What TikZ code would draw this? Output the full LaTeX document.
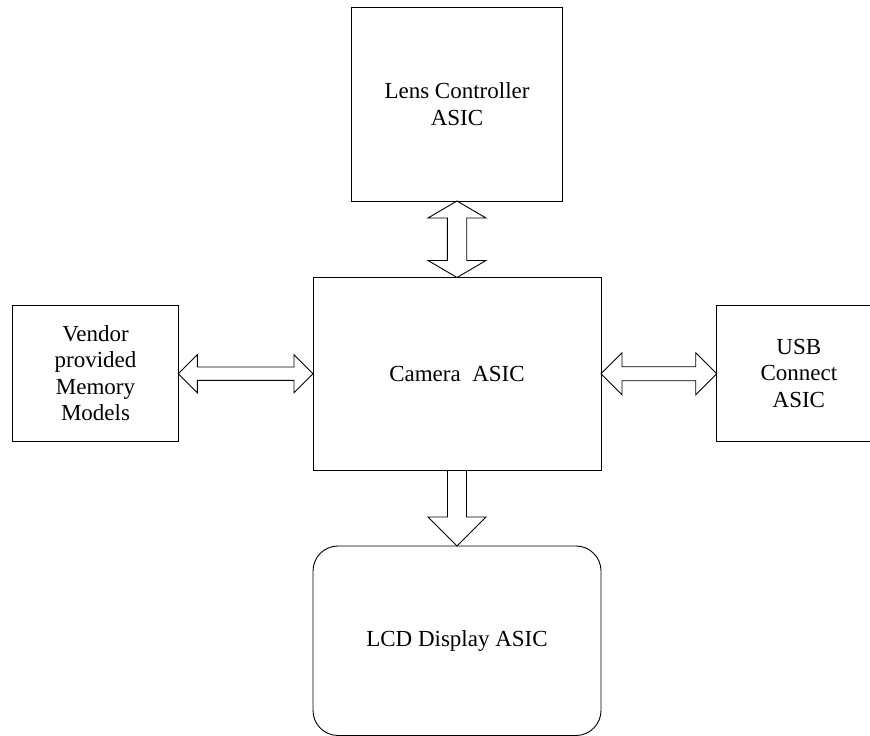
\documentclass[tikz,border=0pt]{standalone}
\usepackage{fontspec}
\setmainfont{Liberation Serif}
\usetikzlibrary{calc}

\begin{document}
\begin{tikzpicture}[x=1pt, y=1pt, line width=0.9pt,
    block/.style={draw, align=center, inner sep=0pt, outer sep=0pt, font=\fontsize{23}{26.5}\selectfont},
    hollow/.style={draw, line join=miter}]

    \useasboundingbox (0,0) rectangle (870,736);
    \clip (0,0) rectangle (870,736);

    \node [block, minimum width=288pt, minimum height=192.5pt] (cam) at (457,362.25) {Camera\ \ ASIC};
    \node [block, minimum width=211pt, minimum height=193.7pt] (lens) at (457,631.85) {Lens Controller\\ASIC};
    \node [block, minimum width=165.6pt, minimum height=135.3pt] (vendor) at (95.5,362.65) {Vendor\\provided\\Memory\\Models};
    \node [block, minimum width=164.3pt, minimum height=135.3pt] (usb) at (798.85,362.65) {USB\\Connect\\ASIC};
    \node [block, rounded corners=25pt, minimum width=288pt, minimum height=189.5pt] (lcd) at (457,95.25) {LCD Display ASIC};

    \coordinate (lenstip) at (lens.south -| cam.north);
    \draw [hollow] (lenstip) -- ++(29,-17) -- ++(-19.3,0) -- ($(cam.north)+(9.7,17)$) -- ++(19.3,0) -- (cam.north)
        -- ++(-29,17) -- ++(19.3,0) -- ($(lenstip)+(-9.7,-17)$) -- ++(-19.3,0) -- cycle;

    \coordinate (vendtip) at (vendor.east |- cam.west);
    \draw [hollow] (vendtip) -- ++(19,19) -- ++(0,-12.3) -- ($(cam.west)+(-19,6.7)$) -- ++(0,12.3) -- (cam.west)
        -- ++(-19,-19) -- ++(0,12.3) -- ($(vendtip)+(19,-6.7)$) -- ++(0,-12.3) -- cycle;

    \coordinate (usbtip) at (usb.west |- cam.east);
    \draw [hollow] (cam.east) -- ++(21,21) -- ++(0,-14) -- ($(usbtip)+(-21,7)$) -- ++(0,14) -- (usbtip)
        -- ++(-21,-21) -- ++(0,14) -- ($(cam.east)+(21,-7)$) -- ++(0,-14) -- cycle;

    \draw [hollow] ($(cam.south)+(-9.5,0)$) -- ($(lcd.north)+(-9.5,29)$) -- ++(-19.5,0) -- (lcd.north)
        -- ++(29,29) -- ++(-19.5,0) -- ($(cam.south)+(9.5,0)$);

\end{tikzpicture}
\end{document}
